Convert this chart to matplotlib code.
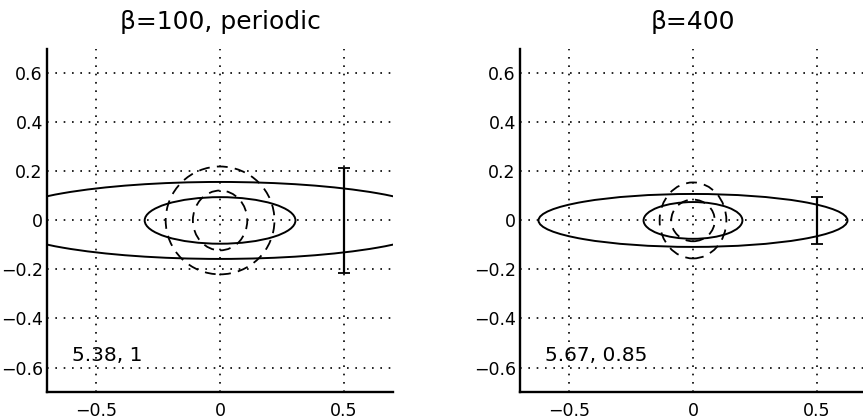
import matplotlib
matplotlib.use('Agg')
import matplotlib.pyplot as plt
from matplotlib.patches import Ellipse

plt.rcParams['font.family'] = ['DejaVu Sans']

# panel titles and corner labels
titles = ['β=100, periodic', 'β=400']
notes = ['5.38, 1', '5.67, 0.85']

# solid ellipses: (semi-axis x, semi-axis y) per panel
solid_big = [(0.90, 0.157), (0.625, 0.108)]
solid_small = [(0.305, 0.095), (0.20, 0.075)]
# dashed ellipses
dash_outer = [(0.22, 0.22), (0.135, 0.155)]
dash_inner = [(0.11, 0.122), (0.088, 0.085)]
# error bar at x=0.5
err_x = 0.5
err_half = [0.215, 0.095]

ticks_x = [-0.5, 0, 0.5]
ticks_y = [-0.6, -0.4, -0.2, 0, 0.2, 0.4, 0.6]
lim = 0.7

fig = plt.figure(figsize=(8.63, 4.19), dpi=100)
positions = [[0.0545, 0.0644, 0.401, 0.819], [0.6025, 0.0644, 0.401, 0.819]]

for k in range(2):
    ax = fig.add_axes(positions[k])
    ax.set_xlim(-lim, lim)
    ax.set_ylim(-lim, lim)
    ax.set_xticks(ticks_x)
    ax.set_xticklabels(['\u22120.5', '0', '0.5'])
    ax.set_yticks(ticks_y)
    ax.set_yticklabels(['\u22120.6', '\u22120.4', '\u22120.2', '0', '0.2', '0.4', '0.6'])
    ax.grid(True, color='black', linestyle=(0, (1, 4)), linewidth=1.2)
    ax.tick_params(direction='in', length=0, labelsize=12.5, pad=3)
    ax.tick_params(axis='x', pad=7)
    for s in ['top', 'right']:
        ax.spines[s].set_visible(False)
    for s in ['left', 'bottom']:
        ax.spines[s].set_linewidth(1.7)

    for (a, b) in [solid_big[k], solid_small[k]]:
        ax.add_patch(Ellipse((0, 0), 2 * a, 2 * b, fill=False, edgecolor='black', linewidth=1.4))
    for (a, b) in [dash_outer[k], dash_inner[k]]:
        ax.add_patch(Ellipse((0, 0), 2 * a, 2 * b, fill=False, edgecolor='black',
                             linewidth=1.3, linestyle=(0, (6, 4))))

    ax.errorbar([err_x], [0], yerr=[err_half[k]], color='black', linewidth=1.6,
                capsize=4, capthick=1.3)

    ax.text(-0.6, -0.575, notes[k], fontsize=14.5)
    ax.set_title(titles[k], fontsize=18, pad=14)

fig.savefig('out.png', dpi=100)
